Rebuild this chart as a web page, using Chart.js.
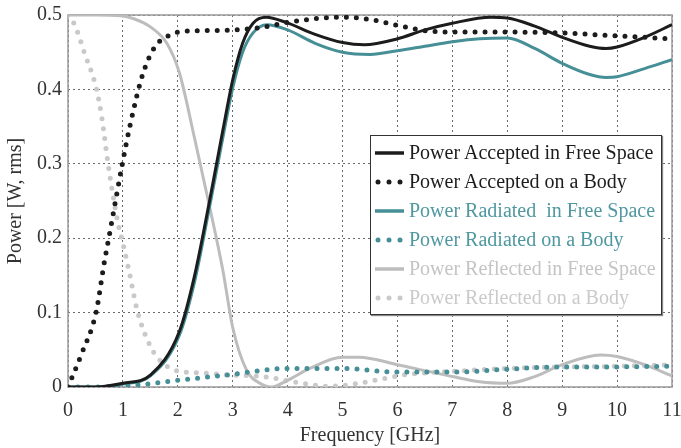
<!DOCTYPE html>
<html>
<head>
<meta charset="utf-8">
<script src="https://cdn.jsdelivr.net/npm/chart.js@4.4.1/dist/chart.umd.min.js"></script>
<style>
    body { margin: 0; background: #fff; }
    #wrap { position: relative; width: 681px; height: 448px; }
    #legend {
        position: absolute; left: 370px; top: 135px; width: 290px; height: 176px;
        border: 1.5px solid #333; background: #fff; box-shadow: 1px 1px 1px #888;
        font-family: "Liberation Serif", serif; font-size: 20px; padding-top: 2px;
    }
    .row { height: 29px; line-height: 29px; white-space: nowrap; display: flex; align-items: center; }
    .row svg { width: 36px; height: 29px; flex: none; margin-left: 2px; }
</style>
</head>
<body>
<div id="wrap">
    <canvas id="chart" width="681" height="448"></canvas>
    <div id="legend"></div>
</div>
<script>
// frequency ticks and power ticks
const xTickLabels = ['0', '1', '2', '3', '4', '5', '6', '7', '8', '9', '10', '11'];
const yTickLabels = ['0', '0.1', '0.2', '0.3', '0.4', '0.5'];

// Power Accepted in Free Space
const accFreeX = [0, 0.5, 1, 1.5, 2.03, 2.3, 2.58, 2.82, 3.0, 3.18, 3.37, 3.61, 3.97, 4.5, 5, 5.4, 6, 6.5, 7, 7.7, 8, 8.5, 9, 9.5, 9.8, 10, 10.5, 11];
const accFreeY = [0, 0, 0.005, 0.016, 0.075, 0.148, 0.251, 0.345, 0.413, 0.462, 0.489, 0.497, 0.49, 0.474, 0.463, 0.46, 0.468, 0.48, 0.489, 0.497, 0.496, 0.485, 0.47, 0.458, 0.455, 0.457, 0.47, 0.487];

// Power Accepted on a Body
const accBodyX = [0, 0.25, 0.51, 0.66, 0.76, 0.88, 0.99, 1.14, 1.36, 1.58, 1.85, 2.1, 2.5, 3, 3.5, 4, 4.5, 5, 5.5, 6, 6.5, 7, 8, 9, 9.5, 10, 10.5, 11];
const accBodyY = [0, 0.045, 0.1, 0.167, 0.207, 0.256, 0.3, 0.355, 0.42, 0.457, 0.473, 0.478, 0.479, 0.48, 0.483, 0.49, 0.495, 0.497, 0.494, 0.486, 0.479, 0.477, 0.477, 0.476, 0.474, 0.472, 0.47, 0.468];

// Power Radiated in Free Space
const radFreeX = [0, 0.5, 1, 1.5, 2.03, 2.3, 2.58, 2.82, 3.0, 3.18, 3.37, 3.62, 4, 4.5, 5, 5.5, 6, 6.5, 7, 7.5, 8, 8.5, 9, 9.5, 9.8, 10, 10.5, 11];
const radFreeY = [0, 0, 0.004, 0.015, 0.07, 0.14, 0.243, 0.335, 0.402, 0.45, 0.476, 0.487, 0.48, 0.462, 0.45, 0.447, 0.452, 0.458, 0.464, 0.468, 0.469, 0.455, 0.435, 0.42, 0.416, 0.417, 0.428, 0.44];

// Power Radiated on a Body
const radBodyX = [0, 0.5, 1, 1.3, 2, 2.5, 3, 3.5, 4, 5, 6, 7, 8, 9, 10, 11];
const radBodyY = [0, 0, 0.002, 0.003, 0.009, 0.013, 0.017, 0.022, 0.025, 0.025, 0.02, 0.02, 0.024, 0.027, 0.027, 0.028];

// Power Reflected in Free Space
const refFreeX = [0, 0.5, 0.95, 1.2, 1.5, 1.8, 2.03, 2.3, 2.58, 2.82, 3.0, 3.25, 3.55, 3.7, 4, 4.4, 5, 5.3, 6, 6.5, 7, 7.5, 8, 8.5, 9, 9.7, 10, 10.5, 11];
const refFreeY = [0.5, 0.5, 0.499, 0.495, 0.484, 0.462, 0.422, 0.336, 0.242, 0.157, 0.08, 0.023, 0.003, 0, 0.009, 0.025, 0.04, 0.04, 0.03, 0.022, 0.014, 0.007, 0.005, 0.014, 0.03, 0.043, 0.041, 0.03, 0.015];

// Power Reflected on a Body
const refBodyX = [0, 0.12, 0.3, 0.52, 0.62, 0.72, 0.81, 0.9, 1.0, 1.12, 1.26, 1.52, 1.73, 2.03, 2.4, 3, 3.55, 4.27, 4.76, 5.3, 5.8, 6.2, 7, 8, 9, 10, 11];
const refBodyY = [0.5, 0.487, 0.449, 0.4, 0.36, 0.305, 0.262, 0.224, 0.193, 0.153, 0.103, 0.052, 0.032, 0.021, 0.019, 0.016, 0.014, 0.005, 0.001, 0.005, 0.012, 0.017, 0.021, 0.025, 0.027, 0.028, 0.03];

const zip = (xs, ys) => xs.map((x, i) => ({ x: x, y: ys[i] }));

const black = '#1c1c1c';
const teal = '#468f97';
const gray = '#bdbdbd';
const lightGray = '#c9c9c9';

const series = [
    { label: 'Power Accepted in Free Space', data: zip(accFreeX, accFreeY), color: black, text: '#1c1c1c', dotted: false },
    { label: 'Power Accepted on a Body', data: zip(accBodyX, accBodyY), color: black, text: '#1c1c1c', dotted: true },
    { label: 'Power Radiated\u00a0 in Free Space', data: zip(radFreeX, radFreeY), color: teal, text: '#4f98a0', dotted: false },
    { label: 'Power Radiated on a Body', data: zip(radBodyX, radBodyY), color: teal, text: '#4f98a0', dotted: true },
    { label: 'Power Reflected in Free Space', data: zip(refFreeX, refFreeY), color: gray, text: '#c4c4c4', dotted: false },
    { label: 'Power Reflected on a Body', data: zip(refBodyX, refBodyY), color: lightGray, text: '#cacaca', dotted: true },
];

// grey box round the plot area
const framePlugin = {
    id: 'frame',
    beforeDatasetsDraw(chart) {
        const { ctx, chartArea: a } = chart;
        ctx.save();
        ctx.strokeStyle = '#999';
        ctx.lineWidth = 1.5;
        ctx.strokeRect(a.left, a.top, a.right - a.left, a.bottom - a.top);
        ctx.restore();
    }
};

// keep the plot area fixed, labels may hang over the edges
const noOverhang = s => {
    s.paddingLeft = 0; s.paddingRight = 0; s.paddingTop = 0; s.paddingBottom = 0;
};

const font = { family: '"Liberation Serif", serif', size: 20 };

new Chart(document.getElementById('chart'), {
    type: 'line',
    data: {
        datasets: series.map(s => ({
            label: s.label,
            data: s.data,
            borderColor: s.color,
            backgroundColor: s.color,
            borderWidth: s.dotted ? 5 : 3,
            borderDash: s.dotted ? [0, 10] : [],
            borderCapStyle: s.dotted ? 'round' : 'butt',
            cubicInterpolationMode: 'monotone',
            pointRadius: 0,
            fill: false,
        })),
    },
    options: {
        responsive: false,
        animation: false,
        layout: { padding: { left: 0, right: 9, top: 15, bottom: 0 } },
        plugins: { legend: { display: false }, tooltip: { enabled: false } },
        scales: {
            x: {
                type: 'linear',
                min: 0,
                max: 11,
                afterFit: s => { s.height = 61; noOverhang(s); },
                ticks: {
                    stepSize: 1,
                    color: '#333',
                    font: font,
                    padding: 12,
                    maxRotation: 0,
                    callback: (v) => xTickLabels[v],
                },
                grid: { color: '#6a6a6a', drawTicks: false, lineWidth: 1 },
                border: { display: false, dash: [2, 3] },
                title: { display: true, text: 'Frequency [GHz]', color: '#333', font: font, padding: { top: 0, bottom: 0 } },
            },
            y: {
                min: 0,
                max: 0.5,
                afterFit: s => { s.width = 68; noOverhang(s); },
                ticks: {
                    stepSize: 0.1,
                    color: '#333',
                    font: font,
                    padding: 6,
                    callback: (v) => yTickLabels[Math.round(v * 10)],
                },
                grid: { color: '#6a6a6a', drawTicks: false, lineWidth: 1 },
                border: { display: false, dash: [2, 3] },
                title: { display: true, text: 'Power [W, rms]', color: '#333', font: font, padding: { top: 4, bottom: 0 } },
            },
        },
    },
    plugins: [framePlugin],
});

// legend box inside the plot
const legend = document.getElementById('legend');
series.forEach(s => {
    const row = document.createElement('div');
    row.className = 'row';
    const sample = s.dotted
        ? `<svg viewBox="0 0 36 29"><circle cx="5" cy="15" r="2.5" fill="${s.color}"/><circle cx="16" cy="15" r="2.5" fill="${s.color}"/><circle cx="27" cy="15" r="2.5" fill="${s.color}"/></svg>`
        : `<svg viewBox="0 0 36 29"><line x1="2" y1="15" x2="31" y2="15" stroke="${s.color}" stroke-width="3.5"/></svg>`;
    row.innerHTML = sample + `<span style="color:${s.text}">${s.label}</span>`;
    legend.appendChild(row);
});
</script>
</body>
</html>
